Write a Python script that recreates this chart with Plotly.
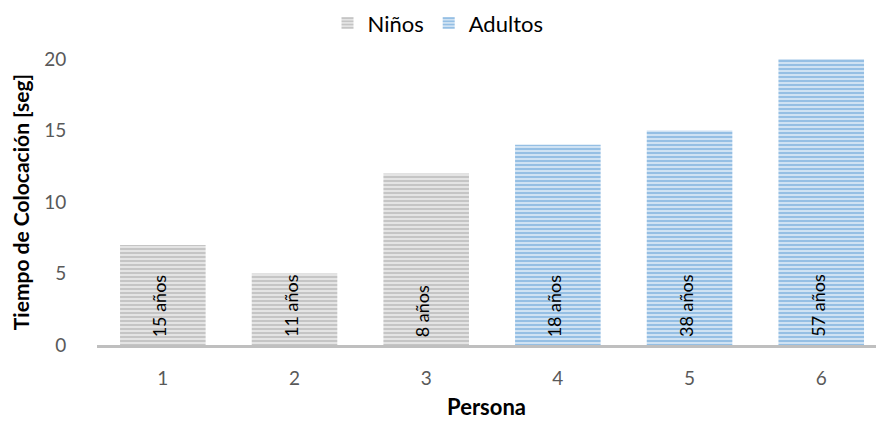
import plotly.graph_objects as go

ninos_x = [1, 2, 3]
ninos_y = [7, 5, 12]
ninos_lbl = ["15 años", "11 años", "8 años"]
adultos_x = [4, 5, 6]
adultos_y = [14, 15, 20]
adultos_lbl = ["18 años", "38 años", "57 años"]

FONT = "Lato"

fig = go.Figure()
fig.add_trace(go.Bar(
    x=ninos_x, y=ninos_y, name="Niños", width=0.65,
    marker=dict(color="#D9D9D9", line=dict(width=0),
                pattern=dict(shape="-", size=4, solidity=0.5,
                             fgcolor="#A5A5A5", bgcolor="#E4E4E4", fillmode="overlay")),
))
fig.add_trace(go.Bar(
    x=adultos_x, y=adultos_y, name="Adultos", width=0.65,
    marker=dict(color="#C5DCF1", line=dict(width=0),
                pattern=dict(shape="-", size=4, solidity=0.5,
                             fgcolor="#5B9BD5", bgcolor="#CFE2F3", fillmode="overlay")),
))

for xs, lbls in ((ninos_x, ninos_lbl), (adultos_x, adultos_lbl)):
    for xv, lb in zip(xs, lbls):
        fig.add_annotation(x=xv, y=0, xref="x", yref="y", text=lb, textangle=-90,
                           showarrow=False, xanchor="center", yanchor="bottom",
                           xshift=-4, yshift=6,
                           font=dict(family=FONT, size=18, color="#000000"))

fig.update_layout(
    width=876, height=426,
    margin=dict(l=97, r=0, t=59, b=81),
    paper_bgcolor="white", plot_bgcolor="white",
    barmode="overlay",
    font=dict(family=FONT, color="#595959"),
    legend=dict(orientation="h", x=0.5, xanchor="center", xref="container",
                y=0.995, yref="container", yanchor="top",
                font=dict(family=FONT, size=22, color="#000000"),
                itemwidth=30, tracegroupgap=0),
    xaxis=dict(
        range=[0.5, 6.416], tickmode="array", tickvals=[1, 2, 3, 4, 5, 6],
        ticktext=["1", "2", "3", "4", "5", "6"],
        showgrid=False, zeroline=False,
        showline=True, linecolor="#BFBFBF", linewidth=3,
        ticks="outside", ticklen=14, tickcolor="rgba(0,0,0,0)",
        tickfont=dict(family=FONT, size=19, color="#595959"),
        title=dict(text="<b>Persona</b>", font=dict(family=FONT, size=22, color="#000000"),
                   standoff=12),
    ),
    yaxis=dict(
        range=[0, 20], tickvals=[0, 5, 10, 15, 20],
        showgrid=False, zeroline=False, showline=False,
        ticks="outside", ticklen=26, tickcolor="rgba(0,0,0,0)",
        tickfont=dict(family=FONT, size=19, color="#595959"),
        title=dict(text="<b>Tiempo de Colocación [seg]</b>",
                   font=dict(family=FONT, size=21, color="#000000"), standoff=8),
    ),
)

fig.write_html("out.html")
